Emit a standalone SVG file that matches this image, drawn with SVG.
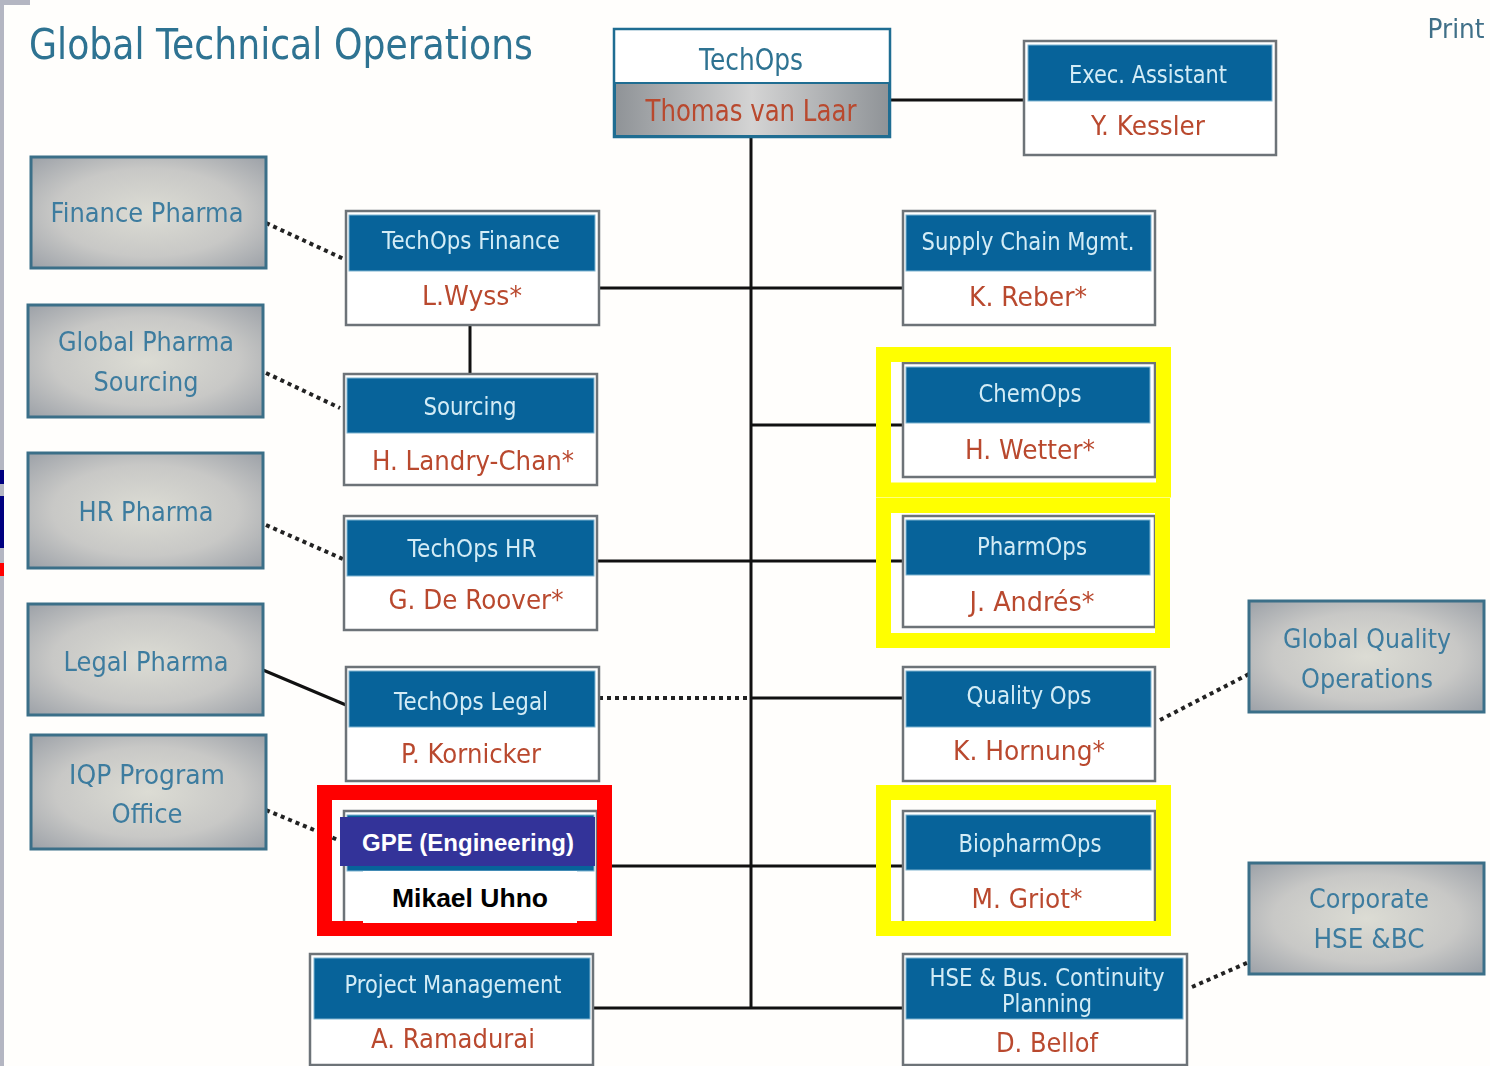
<svg xmlns="http://www.w3.org/2000/svg" width="1490" height="1066" viewBox="0 0 1490 1066">
<style>
text{font-family:"DejaVu Sans","Liberation Sans",sans-serif;text-anchor:middle}
.box{fill:#fff;stroke:#6d7378;stroke-width:2.5}
.hd{fill:#07639a;stroke:#7fb4d0;stroke-width:1}
.ht{fill:#d3ecf6;font-size:24px}
.nm{fill:#b9482e;font-size:27px}
.gb{fill:url(#g);stroke:#3b6f88;stroke-width:3}
.gt{fill:#3d7c9f;font-size:27px}
.ln{fill:none;stroke:#111;stroke-width:3}
.dt{fill:none;stroke:#222;stroke-width:4;stroke-dasharray:4 4}
.yf{fill:none;stroke:#ff0;stroke-width:15}
.soft{filter:url(#s);transform:translateY(-1px)}
</style>
<defs>
<radialGradient id="g" cx="50%" cy="50%" r="72%"><stop offset="0" stop-color="#dcdcd4"/><stop offset="0.55" stop-color="#c8c8c6"/><stop offset="1" stop-color="#9a9fa6"/></radialGradient>
<linearGradient id="t" x1="0" x2="1" y1="0" y2="0"><stop offset="0" stop-color="#8f9397"/><stop offset="0.5" stop-color="#d4d4d4"/><stop offset="1" stop-color="#8f9397"/></linearGradient>
<filter id="s" x="-5%" y="-20%" width="110%" height="140%"><feGaussianBlur stdDeviation="0.6"/></filter>
</defs>
<rect id="background" width="1490" height="1066" fill="#fffefc"/>
<g id="slide-edge">
<rect x="0" y="0" width="4" height="1066" fill="#b4b6c2"/>
<rect x="0" y="0" width="30" height="5" fill="#b4b6c2"/>
<rect x="0" y="470" width="4" height="14" fill="#000080"/>
<rect x="0" y="496" width="4" height="52" fill="#000080"/>
<rect x="0" y="563" width="4" height="13" fill="#f00"/>
</g>
<text id="title" class="soft" x="281" y="60" style="font-size:42px;fill:#2f7392" textLength="504" lengthAdjust="spacingAndGlyphs">Global Technical Operations</text>
<text id="print" class="soft" x="1456" y="39" style="font-size:26px;fill:#3f6f88" textLength="57" lengthAdjust="spacingAndGlyphs">Print</text>
<g id="connectors">
<path class="ln" d="M751 137V1008M890 100H1024M599 288H903M470 325V374M751 425H903M597 561H903M751 698H903M597 866H903M593 1008H903M263 670L346 705"/>
<path class="dt" d="M599 698H751M266 223L346 260M266 373L340 408M266 525L345 560M266 810L338 840M1160 720L1249 674M1192 987L1249 962"/>
</g>
<g id="techops">
<rect x="614" y="29" width="276" height="108" fill="#fff" stroke="#1f6d92" stroke-width="2.5"/>
<rect x="615" y="83" width="274" height="53" fill="url(#t)" stroke="#1f6d92" stroke-width="2"/>
<text class="soft" x="751" y="71" style="font-size:30px;fill:#2f7392" textLength="104" lengthAdjust="spacingAndGlyphs">TechOps</text>
<text class="soft" x="751" y="122" style="font-size:30px;fill:#b9482e" textLength="211" lengthAdjust="spacingAndGlyphs">Thomas van Laar</text>
</g>
<g id="exec-assistant"><rect class="box" x="1024" y="41" width="252" height="114"/><rect class="hd" x="1028" y="45" width="244" height="56"/><text class="ht soft" x="1148" y="84" textLength="158" lengthAdjust="spacingAndGlyphs">Exec. Assistant</text><text class="nm soft" x="1148" y="136" textLength="114" lengthAdjust="spacingAndGlyphs">Y. Kessler</text></g>
<g id="finance-pharma"><rect class="gb" x="31" y="157" width="235" height="111"/><text class="gt soft" x="147" y="223" textLength="193" lengthAdjust="spacingAndGlyphs">Finance Pharma</text></g>
<g id="global-pharma-sourcing"><rect class="gb" x="28" y="305" width="235" height="112"/><text class="gt soft" x="146" y="352" textLength="176" lengthAdjust="spacingAndGlyphs">Global Pharma</text><text class="gt soft" x="146" y="392" textLength="105" lengthAdjust="spacingAndGlyphs">Sourcing</text></g>
<g id="hr-pharma"><rect class="gb" x="28" y="453" width="235" height="115"/><text class="gt soft" x="146" y="522" textLength="135" lengthAdjust="spacingAndGlyphs">HR Pharma</text></g>
<g id="legal-pharma"><rect class="gb" x="28" y="604" width="235" height="111"/><text class="gt soft" x="146" y="672" textLength="165" lengthAdjust="spacingAndGlyphs">Legal Pharma</text></g>
<g id="iqp-program-office"><rect class="gb" x="31" y="735" width="235" height="114"/><text class="gt soft" x="147" y="785" textLength="156" lengthAdjust="spacingAndGlyphs">IQP Program</text><text class="gt soft" x="147" y="824" textLength="71" lengthAdjust="spacingAndGlyphs">Office</text></g>
<g id="global-quality-operations"><rect class="gb" x="1249" y="601" width="235" height="111"/><text class="gt soft" x="1367" y="649" textLength="168" lengthAdjust="spacingAndGlyphs">Global Quality</text><text class="gt soft" x="1367" y="689" textLength="132" lengthAdjust="spacingAndGlyphs">Operations</text></g>
<g id="corporate-hse"><rect class="gb" x="1249" y="863" width="235" height="111"/><text class="gt soft" x="1369" y="909" textLength="120" lengthAdjust="spacingAndGlyphs">Corporate</text><text class="gt soft" x="1369" y="949" textLength="111" lengthAdjust="spacingAndGlyphs">HSE &amp;BC</text></g>
<g id="techops-finance"><rect class="box" x="346" y="211" width="253" height="114"/><rect class="hd" x="349" y="215" width="246" height="56"/><text class="ht soft" x="471" y="250" textLength="178" lengthAdjust="spacingAndGlyphs">TechOps Finance</text><text class="nm soft" x="472" y="306" textLength="100" lengthAdjust="spacingAndGlyphs">L.Wyss*</text></g>
<g id="sourcing"><rect class="box" x="344" y="374" width="253" height="111"/><rect class="hd" x="347" y="378" width="247" height="55"/><text class="ht soft" x="470" y="416" textLength="93" lengthAdjust="spacingAndGlyphs">Sourcing</text><text class="nm soft" x="473" y="471" textLength="202" lengthAdjust="spacingAndGlyphs">H. Landry-Chan*</text></g>
<g id="techops-hr"><rect class="box" x="344" y="516" width="253" height="114"/><rect class="hd" x="347" y="520" width="247" height="56"/><text class="ht soft" x="472" y="558" textLength="129" lengthAdjust="spacingAndGlyphs">TechOps HR</text><text class="nm soft" x="476" y="610" textLength="175" lengthAdjust="spacingAndGlyphs">G. De Roover*</text></g>
<g id="techops-legal"><rect class="box" x="346" y="667" width="253" height="114"/><rect class="hd" x="349" y="671" width="246" height="56"/><text class="ht soft" x="471" y="711" textLength="154" lengthAdjust="spacingAndGlyphs">TechOps Legal</text><text class="nm soft" x="471" y="764" textLength="140" lengthAdjust="spacingAndGlyphs">P. Kornicker</text></g>
<g id="gpe-engineering"><rect class="box" x="344" y="811" width="253" height="112"/><rect class="hd" x="347" y="815" width="247" height="56"/></g>
<g id="project-management"><rect class="box" x="310" y="954" width="283" height="111"/><rect class="hd" x="314" y="958" width="276" height="61"/><text class="ht soft" x="453" y="994" textLength="217" lengthAdjust="spacingAndGlyphs">Project Management</text><text class="nm soft" x="453" y="1049" textLength="164" lengthAdjust="spacingAndGlyphs">A. Ramadurai</text></g>
<g id="supply-chain"><rect class="box" x="903" y="211" width="252" height="114"/><rect class="hd" x="906" y="215" width="245" height="56"/><text class="ht soft" x="1028" y="251" textLength="213" lengthAdjust="spacingAndGlyphs">Supply Chain Mgmt.</text><text class="nm soft" x="1028" y="307" textLength="118" lengthAdjust="spacingAndGlyphs">K. Reber*</text></g>
<g id="chemops"><rect class="box" x="903" y="363" width="252" height="114"/><rect class="hd" x="906" y="367" width="244" height="56"/><text class="ht soft" x="1030" y="403" textLength="103" lengthAdjust="spacingAndGlyphs">ChemOps</text><text class="nm soft" x="1030" y="460" textLength="130" lengthAdjust="spacingAndGlyphs">H. Wetter*</text></g>
<g id="pharmops"><rect class="box" x="903" y="516" width="252" height="111"/><rect class="hd" x="906" y="520" width="244" height="55"/><text class="ht soft" x="1032" y="556" textLength="110" lengthAdjust="spacingAndGlyphs">PharmOps</text><text class="nm soft" x="1032" y="612" textLength="125" lengthAdjust="spacingAndGlyphs">J. Andrés*</text></g>
<g id="quality-ops"><rect class="box" x="903" y="667" width="252" height="114"/><rect class="hd" x="906" y="671" width="245" height="56"/><text class="ht soft" x="1029" y="705" textLength="125" lengthAdjust="spacingAndGlyphs">Quality Ops</text><text class="nm soft" x="1029" y="761" textLength="152" lengthAdjust="spacingAndGlyphs">K. Hornung*</text></g>
<g id="biopharmops"><rect class="box" x="903" y="811" width="252" height="114"/><rect class="hd" x="906" y="815" width="245" height="55"/><text class="ht soft" x="1030" y="853" textLength="143" lengthAdjust="spacingAndGlyphs">BiopharmOps</text><text class="nm soft" x="1027" y="909" textLength="111" lengthAdjust="spacingAndGlyphs">M. Griot*</text></g>
<g id="hse-bus-continuity"><rect class="box" x="903" y="954" width="284" height="111"/><rect class="hd" x="906" y="958" width="277" height="61"/><text class="ht soft" x="1047" y="987" textLength="235" lengthAdjust="spacingAndGlyphs">HSE &amp; Bus. Continuity</text><text class="ht soft" x="1047" y="1013" textLength="90" lengthAdjust="spacingAndGlyphs">Planning</text><text class="nm soft" x="1047" y="1053" textLength="102" lengthAdjust="spacingAndGlyphs">D. Bellof</text></g>
<g id="highlights">
<rect class="yf" x="883.5" y="354.5" width="280" height="135.5"/>
<rect class="yf" x="883.5" y="505.5" width="279" height="135"/>
<rect class="yf" x="883.5" y="792.5" width="280" height="136"/>
<rect x="324.5" y="792.5" width="280" height="136" fill="none" stroke="#f00" stroke-width="15"/>
</g>
<g id="gpe-labels">
<rect x="340" y="817" width="255" height="49" fill="#333399"/>
<rect x="363" y="871" width="214" height="52" fill="#fff"/>
<text x="468" y="851" style="font-family:'Liberation Sans',Arial,sans-serif;font-size:24px;font-weight:700;fill:#fff">GPE (Engineering)</text>
<text x="470" y="907" style="font-family:'Liberation Sans',Arial,sans-serif;font-size:26.5px;font-weight:700;fill:#000">Mikael Uhno</text>
</g>
</svg>
